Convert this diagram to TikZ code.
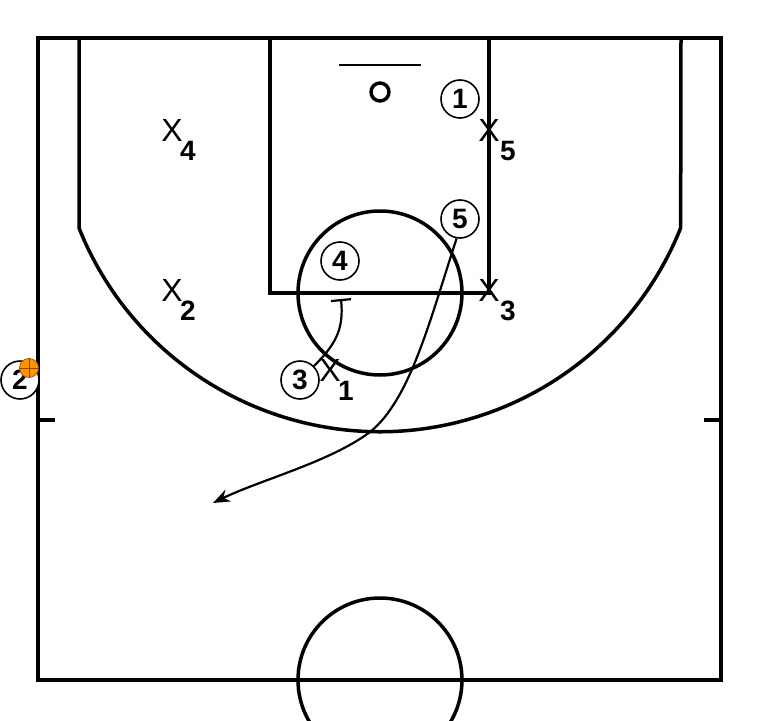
\documentclass[tikz,border=0pt]{standalone}
\usepackage{fontspec}
\setmainfont{Liberation Sans}
\usetikzlibrary{positioning}
\usetikzlibrary{arrows}
\usetikzlibrary{arrows.meta}

\begin{document}
\begin{tikzpicture}[x=1pt,y=-1pt,
		court/.style={draw=black, line width=3.5pt},
		off/.style={shape=circle, draw=black, fill=white, line width=1.6pt, minimum size=38pt, inner sep=0pt, font=\bfseries\fontsize{28}{28}\selectfont},
		def/.style={inner sep=0pt, font=\fontsize{32}{32}\selectfont},
		defnum/.style={inner sep=0pt, font=\bfseries\fontsize{28}{28}\selectfont},
		ball/.style={shape=circle, draw=orange!70!black, fill=orange!85!yellow, line width=0.8pt, minimum size=19pt, inner sep=0pt},
		move/.style={line width=2.2pt},
]
\useasboundingbox (0,0) rectangle (760,720);
\clip (0,0) rectangle (760,720);

% court
\draw[court] (38,38) rectangle (721,680);
\draw[court] (79,38) -- (79,228) arc[start angle=158.2, end angle=21.8, radius=324] -- (681,38);
\draw[court] (270,38) rectangle (489,293);
\draw[court] (380,293) circle[radius=82];
\draw[court] (380,680) circle[radius=82];
\draw[court] (38,420) -- (55,420);
\draw[court] (704,420) -- (721,420);
\draw[line width=2.2pt] (339,65) -- (421,65);
\draw[line width=3.5pt] (380,92) circle[radius=9];

% defense
\node[def] (x4) at (172,130) {X};
\node[defnum] (n4) at (188,151) {4};
\node[def] (x2) at (172,290) {X};
\node[defnum] (n2) at (188,311) {2};
\node[def] (x5) at (489,130) {X};
\node[defnum] (n5) at (508,151) {5};
\node[def] (x3) at (489,290) {X};
\node[defnum] (n3) at (508,311) {3};
\node[def] (x1) at (330,370) {X};
\node[defnum] (n1) at (346,391) {1};

% offense
\node[off] (p1) at (460,99) {1};
\node[off] (p2) at (20,380) {2};
\node[off] (p3) at (300,380) {3};
\node[off] (p4) at (340,261) {4};
\node[off] (p5) at (460,219) {5};

\node[ball] (ball) at (29,368) {};
\draw[orange!55!black, line width=0.7pt] (ball.north) -- (ball.south);
\draw[orange!55!black, line width=0.7pt] (ball.west) -- (ball.east);

% screen and cut
\coordinate (scr) at (341,299);
\coordinate (cut) at (213,503);
\draw[move, -{Bar[width=20pt]}] (p3.45) .. controls (335,345) and (344,330) .. (scr);
\draw[move, -{Stealth[length=17pt,width=13pt]}] (p5.260) .. controls (430,320) and (410,400) .. (370,432) .. controls (330,462) and (260,480) .. (cut);

\end{tikzpicture}
\end{document}
